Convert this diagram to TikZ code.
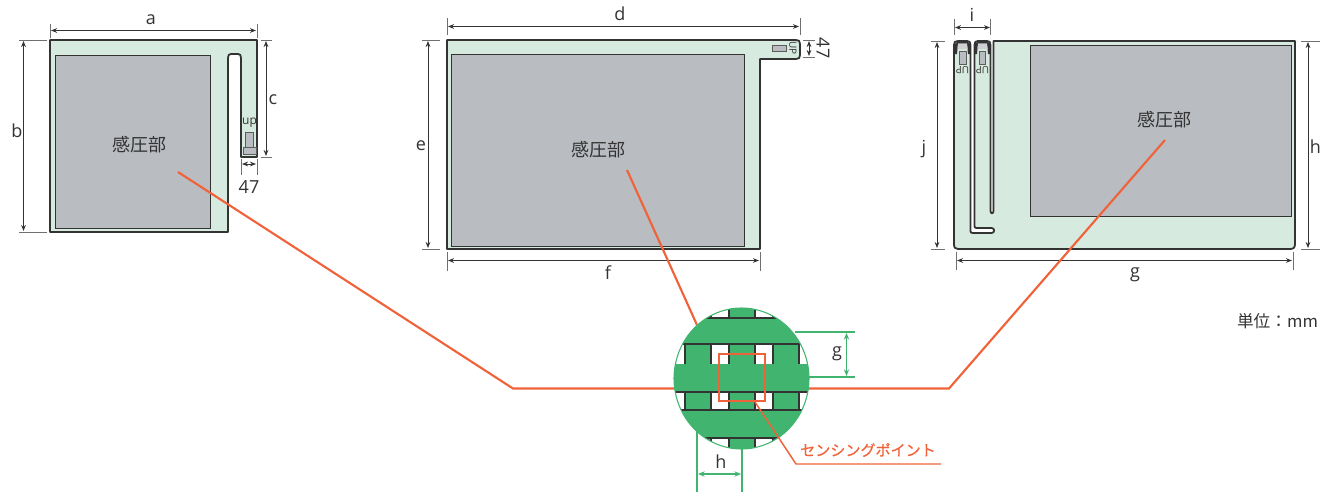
\documentclass[tikz,border=0pt]{standalone}
\usepackage{fontspec}
\setmainfont{Open Sans}
\newfontfamily\jpfont{Noto Sans CJK JP}
\newfontfamily\jpmed[FakeBold=0.5]{Noto Sans CJK JP}
\usetikzlibrary{arrows.meta}
\definecolor{panel}{HTML}{D7EADF}
\definecolor{sense}{HTML}{B9BCC1}
\definecolor{weave}{HTML}{41B56F}
\definecolor{lead}{HTML}{F0623A}
\definecolor{ink}{HTML}{333333}
\tikzset{
  x=0.75pt,y=-0.75pt,
  body/.style={draw=ink,line width=1.35pt,fill=panel,line join=round},
  sensor/.style={draw=ink,line width=0.7pt,fill=sense},
  dimline/.style={draw=ink,line width=0.65pt,{Stealth[length=4.5pt,width=3.5pt]}-{Stealth[length=4.5pt,width=3.5pt]}},
  ticks/.style={draw=ink!70,line width=0.65pt},
  label/.style={text=ink,font=\fontsize{13.5}{15}\selectfont,inner sep=0pt},
  tiny/.style={text=ink,font=\fontsize{7.5}{8}\selectfont,inner sep=0pt},
  jp/.style={text=ink,font=\jpfont\fontsize{13.5}{15}\selectfont,inner sep=0pt},
  leader/.style={draw=lead,line width=1.6pt,line join=miter},
  gdim/.style={draw=weave,line width=0.8pt},
  garrow/.style={gdim,{Stealth[length=5pt,width=4pt]}-{Stealth[length=5pt,width=4pt]}},
  tab/.style={draw=ink!80,line width=0.6pt,fill=sense},
}
\begin{document}
\begin{tikzpicture}
\useasboundingbox (0,0) rectangle (1321,493);
% ---------- left panel
\path[body] (50,40) -- (257,40) -- (257,157) -- (241,157) -- (241,58)
  .. controls (241,55) and (240,54) .. (238,54) -- (231,54)
  .. controls (229,54) and (228,55) .. (228,58) -- (228,232) -- (50,232) -- cycle;
\path[sensor] (55.5,55.5) rectangle (210.5,228);
\path[tab] (245,132) rectangle (253,147);
\path[tab] (243.5,147) rectangle (256,154);
\node[tiny,font=\fontsize{9}{10}\selectfont] (upA) at (249.5,123) {up};
\node[jp] (senseA) at (139,145) {感圧部};
\draw[ticks] (50,24) -- (50,38) (257,24) -- (257,38);
\draw[ticks] (19,40) -- (47,40) (19,232) -- (47,232);
\draw[ticks] (261,40) -- (272,40) (261,157) -- (272,157);
\draw[ticks] (241,159) -- (241,175) (257,159) -- (257,175);
\draw[dimline] (51,30.5) -- (256,30.5);
\draw[dimline] (23.5,41) -- (23.5,231);
\draw[dimline] (266,41) -- (266,156);
\draw[dimline] (242,164) -- (256,164);
\node[label] (la) at (151,20) {a};
\node[label] (lb) at (17,131) {b};
\node[label] (lc) at (273,100) {c};
\node[label] (l47a) at (249,187) {47};
% ---------- centre panel
\path[body] (447,40) -- (796,40) .. controls (799,40) and (800,41) .. (800,44) -- (800,55)
  .. controls (800,58) and (799,59) .. (796,59) -- (760,59) -- (760,249) -- (447,249) -- cycle;
\path[sensor] (451,54) rectangle (744,246);
\path[tab] (772,45) rectangle (786,51);
\node[tiny,rotate=-90] (upB) at (793,48) {UP};
\node[jp] (senseB) at (598,150) {感圧部};
\draw[ticks] (447,18) -- (447,35) (800,18) -- (800,35);
\draw[ticks] (422,40) -- (440,40) (422,249) -- (440,249);
\draw[ticks] (447,252) -- (447,271) (760,252) -- (760,271);
\draw[ticks] (803,40) -- (815,40) (803,57) -- (815,57);
\draw[dimline] (448,26.5) -- (799,26.5);
\draw[dimline] (428,41) -- (428,248);
\draw[dimline] (448,260.5) -- (759,260.5);
\draw[dimline] (809,41) -- (809,56);
\node[label] (ld) at (620,14) {d};
\node[label] (le) at (421,146) {e};
\node[label] (lf) at (608,273) {f};
\node[label,rotate=-90] (l47b) at (823,48) {47};
% ---------- right panel
\path[body] (954,45) .. controls (954,42) and (955,41) .. (958,41) -- (967,41)
  .. controls (969.5,41) and (970.5,42) .. (970.5,45) -- (970.5,231)
  .. controls (970.5,232.5) and (971,233) .. (973,233) -- (991.5,233)
  .. controls (995,233) and (995,228) .. (991.5,228) -- (976.5,228)
  .. controls (975,228) and (974.5,227.5) .. (974.5,226) -- (974.5,45)
  .. controls (974.5,42) and (975.5,41) .. (978,41) -- (987,41)
  .. controls (989.5,41) and (990.5,42) .. (990.5,45) -- (990.5,211)
  .. controls (990.5,214) and (993.5,214) .. (993.5,211) -- (993.5,41) -- (1295,41) -- (1295,244)
  .. controls (1295,247.5) and (1293.5,249) .. (1290,249) -- (958,249)
  .. controls (955,249) and (954,247.5) .. (954,244) -- cycle;
\path[sensor] (1030,45) rectangle (1291,216);
\fill[ink] (954,45) -- (958,41) -- (967,41) -- (970.5,45) -- (970.5,54) -- (968,54) -- (967,43.5) -- (958,43.5) -- (957,54) -- (954,54) -- cycle;
\fill[ink] (974.5,45) -- (978,41) -- (987,41) -- (990.5,45) -- (990.5,54) -- (988,54) -- (987,43.5) -- (978,43.5) -- (977,54) -- (974.5,54) -- cycle;
\fill[sense!70!white] (958,43.5) -- (967,43.5) -- (967.6,49) -- (957.5,49) -- cycle;
\fill[sense!70!white] (978,43.5) -- (987,43.5) -- (987.6,49) -- (977.5,49) -- cycle;
\path[tab] (959,51) rectangle (966,64);
\path[tab] (979,51) rectangle (985.5,64);
\node[tiny,rotate=180] (upC) at (962.5,70) {UP};
\node[tiny,rotate=180] (upD) at (982.5,70) {UP};
\node[jp] (senseC) at (1164,120) {感圧部};
\draw[ticks] (954,19) -- (954,35) (990.5,19) -- (990.5,35);
\draw[ticks] (931,41) -- (945,41) (931,249) -- (945,249);
\draw[ticks] (956,252) -- (956,270) (1293,252) -- (1293,270);
\draw[ticks] (1301,41) -- (1320,41) (1301,249) -- (1320,249);
\draw[dimline] (955,27.5) -- (990,27.5);
\draw[dimline] (937,42) -- (937,248);
\draw[dimline] (957,260.5) -- (1292,260.5);
\draw[dimline] (1308,42) -- (1308,248);
\node[label] (li) at (972,15) {i};
\node[label] (lj) at (924,149) {j};
\node[label] (lg) at (1135,275) {g};
\node[label] (lh) at (1315.5,147) {h};
\node[text=ink,font=\jpfont\fontsize{12.5}{14}\selectfont,inner sep=0pt] (unit) at (1277.5,321) {単位：mm};
% ---------- leaders
\coordinate (p1) at (178,172);
\coordinate (p1b) at (513,388.5);
\coordinate (lensL) at (680,388.5);
\coordinate (p2) at (627,170);
\coordinate (lensT) at (697,325);
\coordinate (p3) at (1165,140);
\coordinate (p3b) at (949,388.5);
\coordinate (lensR) at (805,388.5);
\draw[leader] (p1) -- (p1b) -- (lensL);
\draw[leader] (p2) -- (lensT);
\draw[leader] (p3) -- (p3b) -- (lensR);
% ---------- green dimensions
\draw[gdim] (795,332) -- (855,332) (805,377) -- (855,377);
\draw[garrow] (846.5,333) -- (846.5,376);
\draw[gdim] (697,428) -- (697,492) (742,445) -- (742,492);
\draw[garrow] (698,474) -- (741,474);
% ---------- lens
\fill[white] (741.5,378.5) ellipse [x radius=67.5,y radius=70.5];
\begin{scope}
\clip (741.5,378.5) ellipse [x radius=67.5,y radius=70.5];
\foreach \xa/\xb in {685/711,729/755,773/799}{
  \fill[weave] (\xa,300) rectangle (\xb,460);
  \draw[ink,line width=0.8pt] (\xa,300) -- (\xa,460) (\xb,300) -- (\xb,460);
}
\fill[weave] (670,318) rectangle (815,344);
\fill[weave] (670,364) rectangle (815,392);
\fill[weave] (670,410) rectangle (815,438);
\draw[ink,line width=0.8pt] (670,318) -- (815,318) (670,344) -- (815,344) (670,392) -- (815,392) (670,410) -- (815,410) (670,438) -- (815,438);
\end{scope}
\draw[weave,line width=0.8pt] (741.5,378.5) ellipse [x radius=67.5,y radius=70.5];
\path[draw=lead,line width=1.9pt] (719,354) rectangle (765,401);
% ---------- sensing point
\coordinate (sp0) at (755,402);
\coordinate (sp1) at (796,464);
\coordinate (sp2) at (941,464);
\draw[draw=lead,line width=1.1pt] (sp0) -- (sp1) -- (sp2);
\node[text=lead,font=\jpmed\fontsize{11.3}{13}\selectfont,inner sep=0pt] (spt) at (868,450) {センシングポイント};
\node[label] (lg2) at (837,354) {g};
\node[label] (lh2) at (721,462) {h};
\end{tikzpicture}
\end{document}
